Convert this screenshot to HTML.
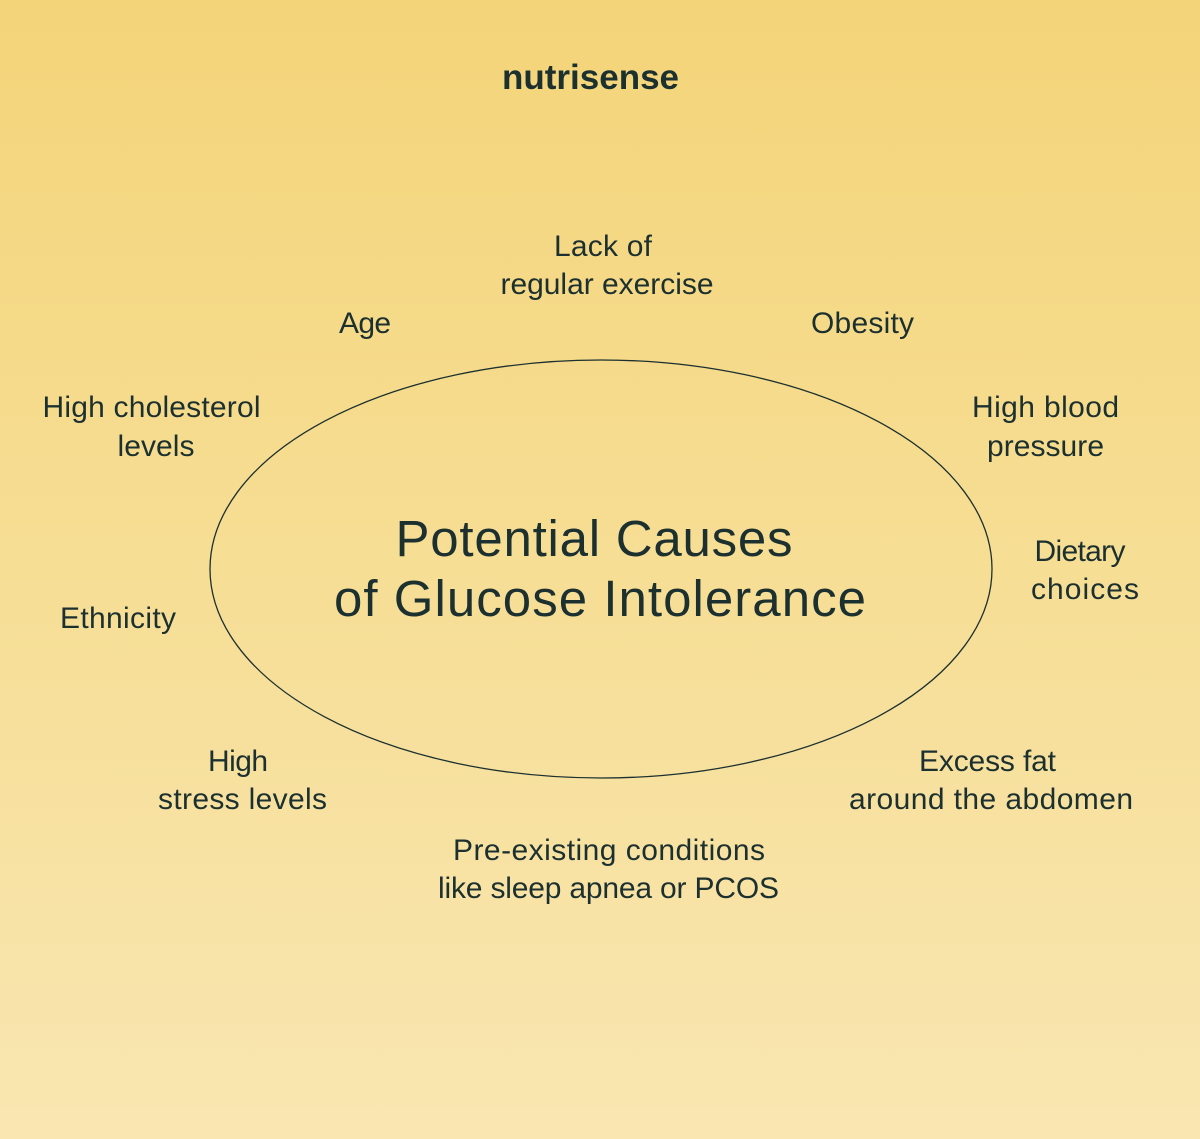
<!DOCTYPE html>
<html>
<head>
<meta charset="utf-8">
<style>
  html, body { margin:0; padding:0; }
  body { width:1200px; height:1139px; overflow:hidden;
    background: linear-gradient(180deg, #f4d479 0%, #f6dd92 45%, #f9e6b1 100%); }
  svg { display:block; }
  text { font-family: "Liberation Sans", sans-serif; fill:#1c302f; }
  .l { font-size:30px; }
  .t { font-size:51px; }
  .logo { font-size:35px; font-weight:bold; }
</style>
</head>
<body>
<svg width="1200" height="1139" viewBox="0 0 1200 1139" xmlns="http://www.w3.org/2000/svg">
  <text class="logo" x="590.5" y="89" text-anchor="middle" textLength="177" lengthAdjust="spacingAndGlyphs">nutrisense</text>

  <ellipse cx="601" cy="569" rx="391" ry="209" fill="none" stroke="#1c302f" stroke-width="1.3"/>

  <text class="t" x="594" y="556" text-anchor="middle" textLength="397" lengthAdjust="spacing">Potential Causes</text>
  <text class="t" x="600" y="616" text-anchor="middle" textLength="532" lengthAdjust="spacing">of Glucose Intolerance</text>

  <text class="l" x="603" y="256" text-anchor="middle" textLength="98" lengthAdjust="spacing">Lack of</text>
  <text class="l" x="607" y="294" text-anchor="middle" textLength="213" lengthAdjust="spacing">regular exercise</text>

  <text class="l" x="365" y="333" text-anchor="middle" textLength="52" lengthAdjust="spacing">Age</text>
  <text class="l" x="862.5" y="333" text-anchor="middle" textLength="103" lengthAdjust="spacing">Obesity</text>

  <text class="l" x="151.5" y="417" text-anchor="middle" textLength="218" lengthAdjust="spacing">High cholesterol</text>
  <text class="l" x="156" y="456" text-anchor="middle" textLength="77" lengthAdjust="spacing">levels</text>

  <text class="l" x="1045.5" y="417" text-anchor="middle" textLength="147" lengthAdjust="spacing">High blood</text>
  <text class="l" x="1045.5" y="456" text-anchor="middle" textLength="117" lengthAdjust="spacing">pressure</text>

  <text class="l" x="1080" y="561" text-anchor="middle" textLength="91" lengthAdjust="spacing">Dietary</text>
  <text class="l" x="1085" y="599" text-anchor="middle" textLength="108" lengthAdjust="spacing">choices</text>

  <text class="l" x="118" y="628" text-anchor="middle" textLength="116" lengthAdjust="spacing">Ethnicity</text>

  <text class="l" x="238" y="771" text-anchor="middle" textLength="60" lengthAdjust="spacing">High</text>
  <text class="l" x="242.5" y="809" text-anchor="middle" textLength="169" lengthAdjust="spacing">stress levels</text>

  <text class="l" x="987.5" y="771" text-anchor="middle" textLength="137" lengthAdjust="spacing">Excess fat</text>
  <text class="l" x="991" y="809" text-anchor="middle" textLength="284" lengthAdjust="spacing">around the abdomen</text>

  <text class="l" x="609" y="860" text-anchor="middle" textLength="312" lengthAdjust="spacing">Pre-existing conditions</text>
  <text class="l" x="608.5" y="898" text-anchor="middle" textLength="341" lengthAdjust="spacing">like sleep apnea or PCOS</text>
</svg>
</body>
</html>
